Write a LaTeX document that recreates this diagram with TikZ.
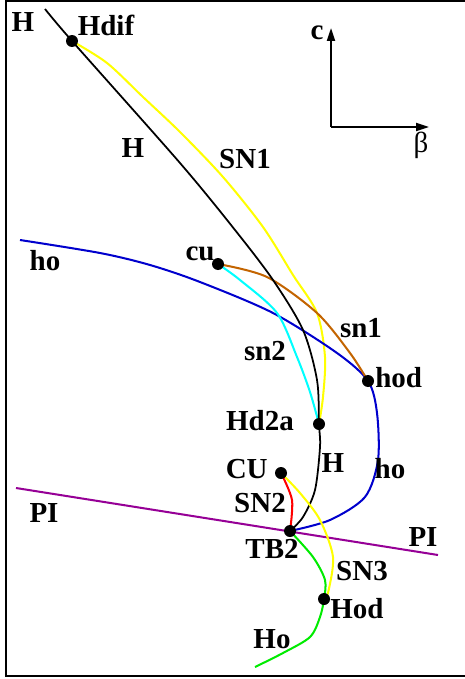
\documentclass[tikz,border=0pt]{standalone}
\usepackage{fontspec}
\setmainfont{Liberation Serif}
\usetikzlibrary{arrows.meta}
\definecolor{hocol}{RGB}{0,0,205}
\definecolor{sncol}{RGB}{255,255,0}
\definecolor{cucol}{RGB}{0,255,255}
\definecolor{sienna}{RGB}{195,100,0}
\definecolor{redsn}{RGB}{255,0,0}
\definecolor{hogreen}{RGB}{0,235,0}
\definecolor{picol}{RGB}{150,0,150}

\begin{document}
\begin{tikzpicture}[x=0.02cm,y=-0.02cm,>={Triangle[length=2.6mm,width=1.6mm]},
  lbl/.style={font=\fontsize{16.5}{19}\selectfont\bfseries,anchor=base,inner sep=0pt},
  pt/.style={circle,fill=black,inner sep=0pt,minimum size=2.4mm},
  crv/.style={line width=1.15pt}]
  \clip (0,0) rectangle (465,679);
  \draw[line width=1.2pt] (470,1) -- (6,1) -- (6,676) -- (470,676);
  % special points
  \coordinate (Htop) at (45,9);
  \coordinate (Hdif) at (72,41);
  \coordinate (cu) at (218,264);
  \coordinate (hod) at (368,381);
  \coordinate (Hd2a) at (319,424);
  \coordinate (CU) at (281,473);
  \coordinate (TB2) at (290,531);
  \coordinate (Hod) at (324,599);
  \coordinate (hoL) at (20,240);
  \coordinate (HoE) at (255,667);
  \coordinate (PIL) at (16,488);
  \coordinate (PIR) at (438,555);
  % axes
  \coordinate (O) at (331,127);
  \coordinate (cax) at (331,28);
  \coordinate (bax) at (429,127);
  \draw[->,line width=1.1pt] (O) -- (cax);
  \draw[->,line width=1.1pt] (O) -- (bax);
  \node[font=\fontsize{16.5}{19}\selectfont\bfseries,anchor=base,inner sep=0pt] (cl) at (317,40) {c};
  \node[font=\fontsize{16.5}{19}\selectfont,anchor=base,inner sep=0pt] (bl) at (421,153) {β};
  % curves
  \draw[crv,picol] (PIL) -- (PIR);
  \draw[crv,sncol] plot[smooth] coordinates {(Hdif) (107,63) (143,97) (180,132) (223,177) (263,227) (293,275) (317,313) (325,357) (323,397) (Hd2a)};
  \draw[crv,hocol] plot[smooth] coordinates {(hoL) (100,253) (150,265) (200,282) (273,313) (337,353) (hod) (377,413) (378,460) (365,497) (330,520) (TB2)};
  \draw[crv,cucol] plot[smooth] coordinates {(cu) (240,280) (277,313) (297,357) (310,392) (Hd2a)};
  \draw[crv,sienna] plot[smooth] coordinates {(cu) (267,277) (317,313) (350,353) (hod)};
  \draw[line width=1pt,black] plot[smooth] coordinates {(Htop) (Hdif) (180,163) (235,230) (273,280) (303,330) (317,380) (Hd2a) (320,447) (315,490) (303,517) (TB2)};
  \draw[crv,redsn] plot[smooth] coordinates {(CU) (292,500) (TB2)};
  \draw[crv,sncol] plot[smooth] coordinates {(CU) (300,493) (320,520) (333,557) (328,593) (Hod)};
  \draw[crv,hogreen] plot[smooth] coordinates {(TB2) (313,557) (325,580) (Hod) (320,617) (310,637) (283,653) (HoE)};
  % dots
  \foreach \p in {Hdif,cu,hod,Hd2a,CU,TB2,Hod}
    \node[pt] (\p dot) at (\p) {};
  % labels
  \node[lbl] (lHtop) at (23,32) {H};
  \node[lbl] (lHdif) at (106,36) {Hdif};
  \node[lbl] (lHmid) at (133,157) {H};
  \node[lbl] (lSNone) at (245,168) {SN1};
  \node[lbl] (lhoL) at (45,270) {ho};
  \node[lbl] (lcu) at (200,260) {cu};
  \node[lbl] (lsnone) at (361,337) {sn1};
  \node[lbl] (lsntwo) at (265,360) {sn2};
  \node[lbl,anchor=base west] (lhod) at (375,387) {hod};
  \node[lbl] (lHdtwo) at (260,430) {Hd2a};
  \node[lbl] (lHlow) at (333,472) {H};
  \node[lbl] (lhoR) at (390,478) {ho};
  \node[lbl,anchor=base east] (lCU) at (268,478) {CU};
  \node[lbl] (lSNtwo) at (260,512) {SN2};
  \node[lbl] (lPIL) at (44,522) {PI};
  \node[lbl] (lTBtwo) at (272,558) {TB2};
  \node[lbl] (lPIR) at (423,546) {PI};
  \node[lbl] (lSNthree) at (362,580) {SN3};
  \node[lbl] (lHod) at (357,618) {Hod};
  \node[lbl] (lHo) at (272,648) {Ho};
\end{tikzpicture}
\end{document}
